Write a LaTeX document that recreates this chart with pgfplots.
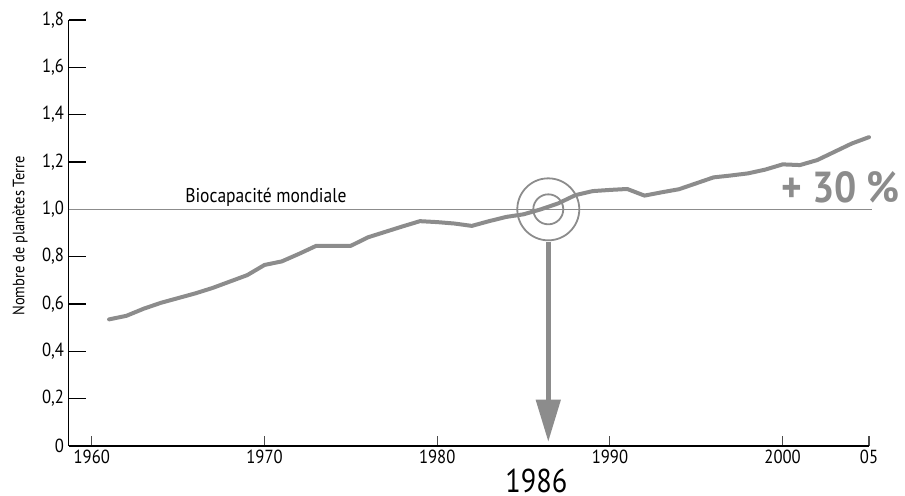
\documentclass[border=0pt]{standalone}
\usepackage{fontspec}
\setmainfont{PT Sans}[FakeStretch=0.88]
\usepackage{pgfplots}
\pgfplotsset{compat=1.18}
\usetikzlibrary{arrows.meta}
\definecolor{lg}{RGB}{140,140,140}
\begin{document}
\begin{tikzpicture}
\begin{axis}[
 scale only axis, width=800.5bp, height=426bp,
 xmin=1958.65, xmax=2005, ymin=0, ymax=1.8,
 axis x line=bottom, axis y line=left,
 axis line style={-, line width=1.1bp, black},
 xtick={1960,1970,1980,1990,2000,2005},
 xticklabels={1960,1970,1980,1990,2000,05},
 ytick={0,0.2,0.4,0.6,0.8,1.0,1.2,1.4,1.6,1.8},
 yticklabels={0,{0,2},{0,4},{0,6},{0,8},{1,0},{1,2},{1,4},{1,6},{1,8}},
 tick align=inside,
 xtick style={/pgfplots/major tick length=10bp, line width=1.1bp, black!70},
 ytick style={/pgfplots/major tick length=18bp, line width=1.1bp, black},
 tick label style={font=\fontsize{19}{21}\selectfont},
 xticklabel style={yshift=-1bp},
 yticklabel style={xshift=-1bp},
 clip=false,
]
\addplot[lg, line width=4bp, line join=round, line cap=round] coordinates {
(1961,0.535)(1962,0.55)(1963,0.58)(1964,0.605)(1965,0.625)(1966,0.645)
(1967,0.668)(1968,0.695)(1969,0.722)(1970,0.765)(1971,0.78)(1972,0.812)
(1973,0.846)(1974,0.846)(1975,0.846)(1976,0.882)(1977,0.905)(1978,0.928)
(1979,0.95)(1980,0.946)(1981,0.94)(1982,0.93)(1983,0.95)(1984,0.968)
(1985,0.979)(1986,1.0)(1987,1.025)(1988,1.06)(1989,1.077)(1990,1.082)
(1991,1.086)(1992,1.058)(1993,1.072)(1994,1.085)(1995,1.11)(1996,1.135)
(1997,1.143)(1998,1.152)(1999,1.168)(2000,1.19)(2001,1.187)(2002,1.208)
(2003,1.243)(2004,1.278)(2005,1.305)
};
\draw[lg, line width=1.2bp] (axis cs:1958.65,1) -- ([xshift=3bp]axis cs:2005,1);
\node[anchor=base west, inner sep=0, font=\fontsize{20}{22}\selectfont] at ([yshift=6.5bp]axis cs:1965.4,1) {Biocapacité mondiale};
\node[anchor=base east, inner sep=0, text=lg] at ([xshift=31bp,yshift=6.8bp]axis cs:2005,1) {\resizebox{118bp}{31bp}{\bfseries + 30 \%}};
\draw[lg, line width=1.8bp] (axis cs:1986.43,1) circle[radius=31bp];
\draw[lg, line width=1.8bp] (axis cs:1986.43,1) circle[radius=15bp];
\draw[lg, line width=4.5bp, -{Triangle[length=42bp,width=24bp]}] (axis cs:1986.43,0.863) -- (axis cs:1986.43,0.018);
\node[anchor=base, inner sep=0] at ([yshift=-46bp]axis cs:1985.74,0) {\resizebox{62bp}{23.5bp}{1986}};
\node[rotate=90, anchor=center, inner sep=0, font=\fontsize{16.5}{18}\selectfont] at ([xshift=-48.5bp]rel axis cs:0,0.493) {Nombre de planètes Terre};
\end{axis}
\path (-68.5bp,-50bp) rectangle (836.5bp,446bp);
\end{tikzpicture}
\end{document}
